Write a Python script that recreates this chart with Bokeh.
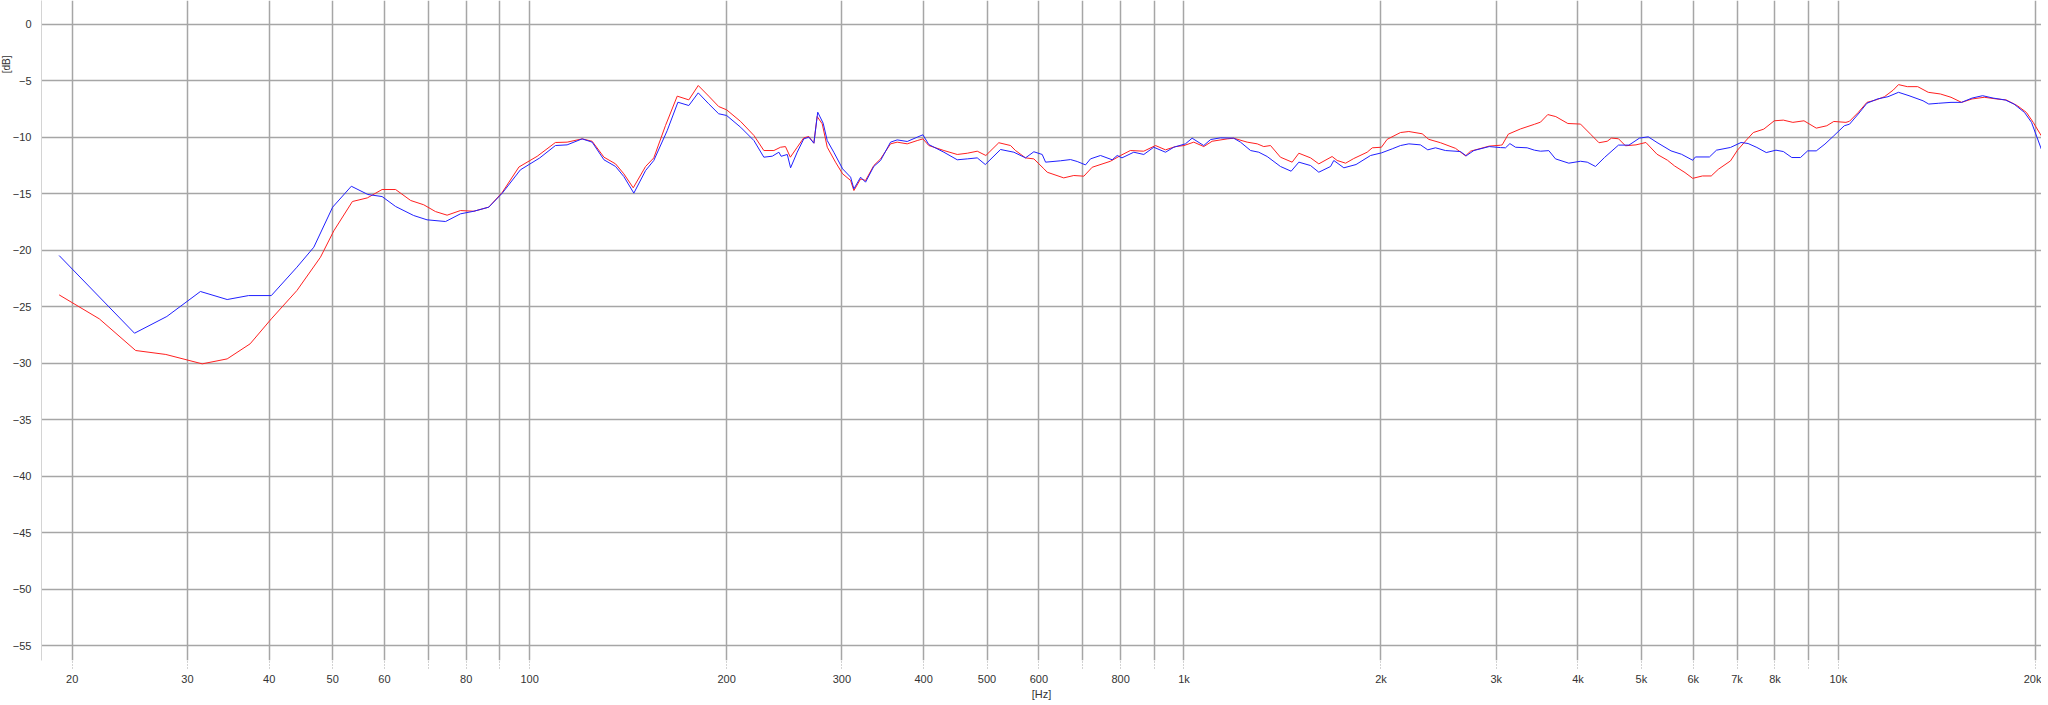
from bokeh.plotting import figure
from bokeh.models import FixedTicker, Title
from bokeh.embed import file_html
from bokeh.resources import INLINE

# ---- data ----
blue_freq = [19.1, 24.9, 27.9, 31.4, 34.5, 37.2, 40.3, 44.1, 46.8, 50.0, 53.4, 56.6, 59.5, 62.4, 66.5, 69.7, 74.4, 78.4, 82.2, 86.6, 90.8, 96.8, 103.6, 109.5, 114.1, 120.3, 124.6, 129.9, 135.3, 139.3, 144.3, 150.4, 154.8, 162.3, 168.5, 175.1, 181.0, 187.8, 194.5, 200, 210.1, 220.2, 228.0, 234.9, 240.4, 242.3, 247.6, 250.5, 256.4, 262.4, 267.1, 271.9, 275.6, 280.9, 285.0, 291.6, 300.8, 309.4, 313.0, 320.5, 326.1, 335.7, 343.8, 356.1, 364.5, 377.6, 391.1, 399, 407.4, 429.6, 450.3, 466.5, 483.1, 497, 524.4, 549.5, 572.6, 589.6, 607.2, 614.4, 647.5, 670.8, 686.7, 707.1, 719.6, 745.4, 776.8, 790.5, 804, 838, 868.1, 899, 937, 964.7, 1005, 1029, 1072, 1098, 1137, 1191, 1220, 1264, 1301, 1340, 1404, 1458, 1498, 1561, 1607, 1675, 1694, 1755, 1832, 1928, 2003, 2081, 2142, 2206, 2298, 2358, 2423, 2509, 2645, 2699, 2773, 2927, 3045, 3100, 3148, 3211, 3345, 3432, 3506, 3610, 3696, 3873, 4036, 4133, 4254, 4391, 4613, 4786, 4967, 5123, 5283, 5549, 5758, 5990, 6047, 6353, 6512, 6841, 7100, 7278, 7507, 7759, 8028, 8240, 8488, 8752, 8976, 9252, 9539, 9840, 10210, 10400, 10725, 11057, 11476, 11908, 12356, 12822, 13470, 13745, 14237, 14864, 15425, 16006, 16610, 17236, 17990, 18552, 19250, 19732, 20425]
blue_db = [-20.48, -27.35, -25.87, -23.66, -24.37, -24.02, -24.02, -21.51, -19.74, -16.2, -14.35, -15.08, -15.26, -16.14, -16.94, -17.32, -17.47, -16.79, -16.56, -16.2, -14.97, -12.9, -11.85, -10.75, -10.69, -10.16, -10.45, -12.01, -12.6, -13.49, -14.96, -12.96, -12.07, -9.42, -6.92, -7.21, -6.09, -7.06, -7.94, -8.09, -9.13, -10.31, -11.78, -11.69, -11.34, -11.7, -11.54, -12.72, -11.34, -10.16, -10.01, -10.54, -7.8, -8.77, -10.31, -11.34, -12.81, -13.55, -14.58, -13.55, -13.99, -12.6, -12.07, -10.45, -10.25, -10.39, -10.01, -9.8, -10.66, -11.34, -12.01, -11.93, -11.84, -12.43, -11.1, -11.34, -11.84, -11.3, -11.54, -12.22, -12.1, -11.99, -12.16, -12.46, -11.93, -11.63, -12.01, -11.63, -11.84, -11.34, -11.54, -10.9, -11.34, -10.9, -10.6, -10.1, -10.75, -10.22, -10.07, -10.1, -10.45, -11.19, -11.34, -11.72, -12.6, -13.02, -12.22, -12.52, -13.11, -12.6, -12.07, -12.72, -12.43, -11.63, -11.4, -11.04, -10.75, -10.6, -10.69, -11.13, -10.95, -11.19, -11.28, -11.66, -11.19, -10.84, -10.93, -10.95, -10.58, -10.9, -10.95, -11.16, -11.25, -11.2, -11.93, -12.31, -12.14, -12.22, -12.6, -11.81, -10.71, -10.71, -10.09, -9.98, -10.48, -11.22, -11.52, -12.05, -11.76, -11.76, -11.16, -10.92, -10.48, -10.57, -10.92, -11.37, -11.16, -11.28, -11.81, -11.81, -11.22, -11.22, -10.62, -9.89, -9.0, -8.86, -7.96, -7.01, -6.63, -6.43, -6.04, -6.34, -6.79, -7.08, -7.01, -6.93, -6.93, -6.55, -6.34, -6.55, -6.72, -7.08, -7.82, -8.7, -11.07]

red_freq = [19.1, 22.0, 25.0, 27.8, 31.6, 34.5, 37.4, 40.3, 44.1, 47.9, 50.2, 53.6, 56.5, 59.5, 62.4, 65.8, 68.9, 71.8, 74.8, 78.4, 82.2, 86.6, 90.8, 96.3, 102.7, 109.5, 114.1, 120.3, 124.6, 129.9, 135.3, 139.3, 144, 150.4, 154.8, 161.3, 168.1, 175.1, 181.0, 187.8, 194.5, 200, 210.1, 220.2, 228, 236.2, 241.8, 246, 250.3, 256.4, 262.4, 267.1, 271.9, 275, 280, 285, 293.4, 300.8, 309.4, 313, 320.5, 326.1, 335.7, 343.8, 356.1, 364.5, 377.6, 391.1, 399, 407.4, 429.6, 450.3, 466.5, 483.1, 498, 521.2, 543.2, 552.7, 572.6, 589.6, 610.7, 618, 655, 678.6, 703, 723.9, 772, 800, 828, 868, 904.6, 937, 970.6, 1000, 1035, 1072, 1104, 1164, 1191, 1249, 1294, 1324, 1356, 1404, 1463, 1498, 1561, 1607, 1684, 1714, 1766, 1817, 1905, 1940, 2003, 2044, 2142, 2206, 2312, 2366, 2466, 2600, 2693, 2741, 2927, 3045, 3064, 3131, 3268, 3432, 3506, 3597, 3700, 3860, 4036, 4190, 4307, 4433, 4501, 4613, 4727, 4906, 5080, 5283, 5481, 5618, 5829, 5990, 6198, 6393, 6554, 6841, 7012, 7234, 7413, 7691, 7980, 8240, 8520, 8860, 9252, 9600, 9840, 10270, 10400, 10725, 11057, 11406, 11760, 12132, 12356, 12745, 13220, 13720, 14322, 14864, 15425, 16006, 16710, 17440, 18060, 18780, 19380, 19850, 20425]
red_db = [-23.96, -26.08, -28.88, -29.23, -30.06, -29.62, -28.29, -26.08, -23.57, -20.63, -18.3, -15.7, -15.38, -14.64, -14.64, -15.61, -15.99, -16.59, -16.91, -16.5, -16.56, -16.2, -14.9, -12.65, -11.7, -10.48, -10.45, -10.16, -10.37, -11.78, -12.37, -13.25, -14.49, -12.6, -11.84, -8.98, -6.38, -6.71, -5.44, -6.38, -7.3, -7.59, -8.62, -9.86, -11.19, -11.19, -10.9, -10.84, -11.78, -10.9, -10.07, -9.95, -10.54, -8.18, -8.83, -10.9, -12.22, -13.25, -13.84, -14.73, -13.7, -13.84, -12.52, -11.93, -10.6, -10.45, -10.6, -10.31, -10.16, -10.75, -11.19, -11.54, -11.43, -11.25, -11.63, -10.5, -10.75, -11.19, -11.84, -11.93, -12.8, -13.11, -13.61, -13.4, -13.46, -12.67, -12.14, -11.63, -11.19, -11.25, -10.75, -11.13, -10.84, -10.75, -10.45, -10.84, -10.37, -10.16, -10.1, -10.45, -10.6, -10.84, -10.75, -11.78, -12.22, -11.43, -11.84, -12.37, -11.72, -12.07, -12.31, -11.9, -11.34, -10.95, -10.9, -10.2, -9.6, -9.51, -9.71, -10.2, -10.5, -11.0, -11.66, -11.25, -10.8, -10.72, -10.69, -9.74, -9.28, -8.87, -8.68, -8.01, -8.19, -8.8, -8.85, -9.8, -10.5, -10.37, -10.09, -10.15, -10.77, -10.69, -10.48, -11.52, -12.05, -12.55, -13.14, -13.65, -13.44, -13.44, -12.85, -12.11, -11.16, -10.27, -9.6, -9.3, -8.56, -8.5, -8.7, -8.56, -9.21, -9.0, -8.62, -8.7, -8.6, -7.82, -6.93, -6.72, -6.43, -5.84, -5.36, -5.54, -5.54, -6.04, -6.19, -6.48, -6.93, -6.63, -6.48, -6.63, -6.72, -7.23, -7.82, -8.7, -9.89]

x_ticks = [20, 30, 40, 50, 60, 70, 80, 90, 100, 200, 300, 400, 500, 600, 700, 800, 900,
           1000, 2000, 3000, 4000, 5000, 6000, 7000, 8000, 9000, 10000, 20000]
x_tick_labels = ["20", "30", "40", "50", "60", "", "80", "", "100", "200", "300", "400", "500", "600", "", "800", "",
                 "1k", "2k", "3k", "4k", "5k", "6k", "7k", "8k", "", "10k", "20k"]
y_ticks = [0, -5, -10, -15, -20, -25, -30, -35, -40, -45, -50, -55]

FONT = "Liberation Sans"
GRID = "#a6a6a6"
TXT = "#333333"

p = figure(frame_width=2000, frame_height=660,
           x_axis_type="log", x_range=(17.95, 20437), y_range=(-56.3, 2.08),
           output_backend="svg", toolbar_location=None,
           min_border_left=41, min_border_right=0, min_border_top=0, min_border_bottom=0)
p.outline_line_color = None
p.background_fill_color = "white"
p.border_fill_color = "white"

# x axis
p.xaxis.ticker = FixedTicker(ticks=x_ticks)
p.xaxis.major_label_overrides = {t: l for t, l in zip(x_ticks, x_tick_labels)}
p.xaxis.minor_tick_line_color = None
p.xaxis.axis_line_color = None
p.xaxis.major_tick_in = 0
p.xaxis.major_tick_out = 8
p.xaxis.major_tick_line_color = GRID
p.xaxis.major_tick_line_dash = "1 2"
p.xaxis.major_label_standoff = 4
p.xaxis.major_label_text_font = FONT
p.xaxis.major_label_text_font_size = "11px"
p.xaxis.major_label_text_color = TXT
p.xaxis.axis_label = "[Hz]"
p.xaxis.axis_label_text_font = FONT
p.xaxis.axis_label_text_font_size = "11px"
p.xaxis.axis_label_text_font_style = "normal"
p.xaxis.axis_label_text_color = TXT
p.xaxis.axis_label_standoff = 0

# y axis
p.yaxis.ticker = FixedTicker(ticks=y_ticks)
p.yaxis.minor_tick_line_color = None
p.yaxis.major_tick_in = 0
p.yaxis.major_tick_out = 0
p.yaxis.axis_line_color = "#d4d4d4"
p.yaxis.major_label_standoff = 10
p.yaxis.major_label_text_font = FONT
p.yaxis.major_label_text_font_size = "11px"
p.yaxis.major_label_text_color = TXT

# grids
p.xgrid.grid_line_color = GRID
p.xgrid.grid_line_width = 1.5
p.ygrid.grid_line_color = GRID
p.ygrid.grid_line_width = 1.5
p.xgrid.minor_grid_line_color = None

p.add_layout(Title(text="[dB]", align="right", offset=55, standoff=-4,
                   text_font=FONT, text_font_size="10px", text_font_style="normal",
                   text_color=TXT), "left")

p.line(red_freq, red_db, line_color="#ff2020", line_width=1.0)
p.line(blue_freq, blue_db, line_color="#2020ff", line_width=1.0)

open("out.html", "w").write(file_html(p, INLINE))
